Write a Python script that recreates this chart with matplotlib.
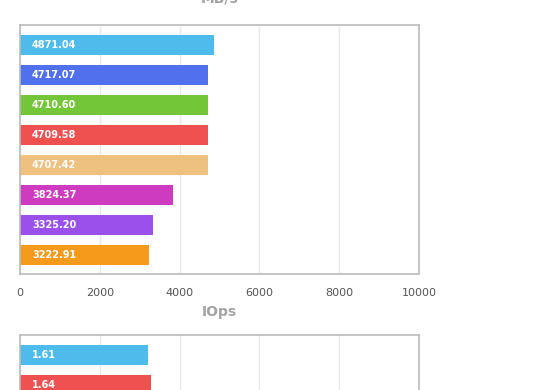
import matplotlib
matplotlib.use("Agg")
import matplotlib.pyplot as plt

# --- data ---
MBS_VALUES = [4871.04, 4717.07, 4710.60, 4709.58, 4707.42, 3824.37, 3325.20, 3222.91]
MBS_COLORS = ["#4dbbec", "#5170ee", "#74c639", "#ef5050",
              "#eec17e", "#cf3bc0", "#9b4feb", "#f59a1a"]
MBS_TICKS = [0, 2000, 4000, 6000, 8000, 10000]

IOPS_VALUES = [1.61, 1.64]
IOPS_COLORS = ["#4dbbec", "#ef5050"]
IOPS_TICKS = [0, 1, 2, 3, 4, 5]

N_SLOTS = 8
FRAME = "#bbbbbb"
GRID = "#e8e8e8"
TITLE_GREY = "#a3a3a3"

W, H = 560, 390
fig = plt.figure(figsize=(W / 100, H / 100), dpi=100)
fig.patch.set_facecolor("white")


def px_axes(left, top, right, bottom):
    return fig.add_axes([left / W, 1 - bottom / H, (right - left) / W, (bottom - top) / H])


def draw_panel(ax, values, colors, ticks, show_ticklabels):
    pos = list(range(len(values)))
    ax.barh(pos, values, height=0.667, color=colors, zorder=2)
    ax.set_xlim(ticks[0], ticks[-1])
    ax.set_ylim(N_SLOTS - 0.37, -0.67)
    ax.set_xticks(ticks)
    ax.set_yticks([])
    ax.grid(axis="x", color=GRID, linewidth=1, zorder=0)
    for s in ax.spines.values():
        s.set_color(FRAME)
        s.set_linewidth(1.2)
    ax.tick_params(axis="x", length=0, pad=10, labelsize=8, colors="#555555")
    if not show_ticklabels:
        ax.set_xticklabels([])
    for p, v in zip(pos, values):
        ax.annotate(f"{v:.2f}", xy=(0, p), xytext=(12, 0), textcoords="offset pixels",
                    ha="left", va="center", color="white", fontsize=7,
                    fontweight="bold", zorder=3)


ax1 = px_axes(20, 25, 419, 274)
draw_panel(ax1, MBS_VALUES, MBS_COLORS, MBS_TICKS, True)
fig.text(219.5 / W, 1 - 6 / H, "MB/s", ha="center", va="bottom",
         fontsize=10, fontweight="bold", color=TITLE_GREY)

ax2 = px_axes(20, 335, 419, 584)
draw_panel(ax2, IOPS_VALUES, IOPS_COLORS, IOPS_TICKS, False)
fig.text(219.5 / W, 1 - 316 / H, "IOps", ha="center", va="baseline",
         fontsize=10, fontweight="bold", color=TITLE_GREY)

fig.savefig("out.png", dpi=100)
